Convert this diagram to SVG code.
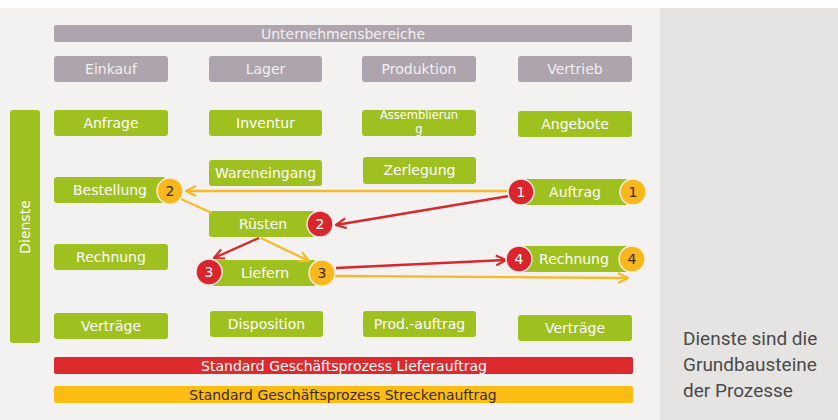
<svg xmlns="http://www.w3.org/2000/svg" width="838" height="420" viewBox="0 0 838 420">
<defs>
<style>
.g{fill:#9fc11f}
.h{fill:#ada4ad}
.t{font-family:"DejaVu Sans",Verdana,sans-serif;font-size:14px;fill:#ffffff;text-anchor:middle}
.ht{font-family:"DejaVu Sans",Verdana,sans-serif;font-size:14px;fill:#f2eff2;text-anchor:middle}
.rb{fill:#d9262c;stroke:#f3e6e6;stroke-width:1.5}
.yb{fill:#f8b71c;stroke:#f6ecd8;stroke-width:1.5}
.bt{font-family:"DejaVu Sans",Verdana,sans-serif;font-size:14px;text-anchor:middle}
.rl{stroke:#d7282e;stroke-width:2.3;fill:none}
.yl{stroke:#f8b928;stroke-width:2.3;fill:none}
</style>
<marker id="ar" viewBox="0 0 12 12" refX="11" refY="6" markerWidth="12" markerHeight="12" markerUnits="userSpaceOnUse" orient="auto"><path d="M1,1 L11,6 L1,11" fill="none" stroke="#d7282e" stroke-width="2.2"/></marker>
<marker id="ay" viewBox="0 0 12 12" refX="11" refY="6" markerWidth="12" markerHeight="12" markerUnits="userSpaceOnUse" orient="auto"><path d="M1,1 L11,6 L1,11" fill="none" stroke="#f8b928" stroke-width="2.2"/></marker>
</defs>
<rect x="0" y="0" width="838" height="420" fill="#f3f2f1"/>
<rect x="0" y="0" width="838" height="8" fill="#ffffff"/>
<rect x="660" y="8" width="178" height="412" fill="#e5e4e3"/>

<g id="header"><rect class="h" x="54" y="25" width="578" height="17" rx="2"/><text class="ht" x="343" y="38.5">Unternehmensbereiche</text></g>
<g id="einkauf"><rect class="h" x="54" y="56" width="114" height="26" rx="3"/><text class="ht" x="111" y="74">Einkauf</text></g>
<g id="lager"><rect class="h" x="209" y="56" width="113" height="26" rx="3"/><text class="ht" x="265.5" y="74">Lager</text></g>
<g id="produktion"><rect class="h" x="362" y="56" width="114" height="26" rx="3"/><text class="ht" x="419" y="74">Produktion</text></g>
<g id="vertrieb"><rect class="h" x="518" y="56" width="114" height="26" rx="3"/><text class="ht" x="575" y="74">Vertrieb</text></g>

<g id="dienste"><rect class="g" x="10" y="110" width="30" height="233" rx="3"/><text class="t" transform="translate(30,227) rotate(-90)">Dienste</text></g>

<g id="anfrage"><rect class="g" x="54" y="110" width="114" height="26" rx="3"/><text class="t" x="111" y="128">Anfrage</text></g>
<g id="inventur"><rect class="g" x="209" y="110" width="113" height="26" rx="3"/><text class="t" x="265.5" y="128">Inventur</text></g>
<g id="assemblierung"><rect class="g" x="362" y="110" width="114" height="26" rx="3"/><text class="t" x="419" y="119" style="font-size:11.5px">Assemblierun</text><text class="t" x="419" y="133" style="font-size:11.5px">g</text></g>
<g id="angebote"><rect class="g" x="518" y="111" width="114" height="26" rx="3"/><text class="t" x="575" y="129">Angebote</text></g>

<g id="wareneingang"><rect class="g" x="209" y="160" width="113" height="26" rx="3"/><text class="t" x="265.5" y="178">Wareneingang</text></g>
<g id="zerlegung"><rect class="g" x="363" y="157" width="113" height="27" rx="3"/><text class="t" x="419.5" y="175">Zerlegung</text></g>

<g id="bestellung"><rect class="g" x="54" y="177" width="112" height="26" rx="3"/><text class="t" x="110" y="195">Bestellung</text></g>
<g id="auftrag"><rect class="g" x="522" y="179" width="106" height="26" rx="3"/><text class="t" x="575" y="197">Auftrag</text></g>
<g id="ruesten"><rect class="g" x="209" y="211" width="106" height="26" rx="3"/><text class="t" x="263" y="229">Rüsten</text></g>
<g id="rechnung1"><rect class="g" x="54" y="244" width="114" height="26" rx="3"/><text class="t" x="111" y="262">Rechnung</text></g>
<g id="liefern"><rect class="g" x="212" y="260" width="104" height="26" rx="3"/><text class="t" x="265" y="278">Liefern</text></g>
<g id="rechnung2"><rect class="g" x="522" y="246" width="106" height="26" rx="3"/><text class="t" x="574" y="264">Rechnung</text></g>

<g id="vertraege1"><rect class="g" x="54" y="313" width="114" height="26" rx="3"/><text class="t" x="111" y="331">Verträge</text></g>
<g id="disposition"><rect class="g" x="210" y="311" width="113" height="26" rx="3"/><text class="t" x="266.5" y="329">Disposition</text></g>
<g id="prodauftrag"><rect class="g" x="363" y="311" width="113" height="26" rx="3"/><text class="t" x="419.5" y="329">Prod.-auftrag</text></g>
<g id="vertraege2"><rect class="g" x="518" y="315" width="114" height="26" rx="3"/><text class="t" x="575" y="333">Verträge</text></g>

<g id="connectors">
<line class="yl" x1="510" y1="191" x2="186" y2="191" marker-end="url(#ay)"/>
<line class="yl" x1="181" y1="199" x2="212" y2="213"/>
<line class="yl" x1="261" y1="238" x2="309" y2="261" marker-end="url(#ay)"/>
<path class="yl" d="M335,276 L628,278" marker-end="url(#ay)"/>
<line class="rl" x1="509" y1="196" x2="336" y2="225" marker-end="url(#ar)"/>
<line class="rl" x1="259" y1="238" x2="214" y2="258" marker-end="url(#ar)"/>
<line class="rl" x1="336" y1="268" x2="506" y2="260" marker-end="url(#ar)"/>
</g>

<g id="badge-y2"><circle class="yb" cx="170" cy="191" r="13"/><text class="bt" x="170" y="196" fill="#3b2a10">2</text></g>
<g id="badge-r1"><circle class="rb" cx="521" cy="192" r="13"/><text class="bt" x="521" y="197" fill="#ffffff">1</text></g>
<g id="badge-y1"><circle class="yb" cx="633" cy="192" r="13"/><text class="bt" x="633" y="197" fill="#3b2a10">1</text></g>
<g id="badge-r2"><circle class="rb" cx="320" cy="224" r="13"/><text class="bt" x="320" y="229" fill="#ffffff">2</text></g>
<g id="badge-r3"><circle class="rb" cx="209" cy="272" r="13"/><text class="bt" x="209" y="277" fill="#ffffff">3</text></g>
<g id="badge-y3"><circle class="yb" cx="322" cy="273" r="13"/><text class="bt" x="322" y="278" fill="#3b2a10">3</text></g>
<g id="badge-r4"><circle class="rb" cx="519" cy="259" r="13"/><text class="bt" x="519" y="264" fill="#ffffff">4</text></g>
<g id="badge-y4"><circle class="yb" cx="632" cy="259" r="13"/><text class="bt" x="632" y="264" fill="#3b2a10">4</text></g>

<g id="lieferauftrag"><rect x="54" y="357" width="579" height="17" rx="2" fill="#dd2a2e"/><text class="t" x="344" y="370.5">Standard Geschäftsprozess Lieferauftrag</text></g>
<g id="streckenauftrag"><rect x="54" y="386" width="579" height="17" rx="2" fill="#fbbd14"/><text class="t" x="343" y="399.5" style="fill:#3a2a12">Standard Geschäftsprozess Streckenauftrag</text></g>

<g id="note" font-family="Roboto,'Noto Sans',sans-serif" font-size="19" fill="#4a4a4a">
<text x="683" y="345">Dienste sind die</text>
<text x="683" y="371">Grundbausteine</text>
<text x="683" y="397">der Prozesse</text>
</g>
</svg>
